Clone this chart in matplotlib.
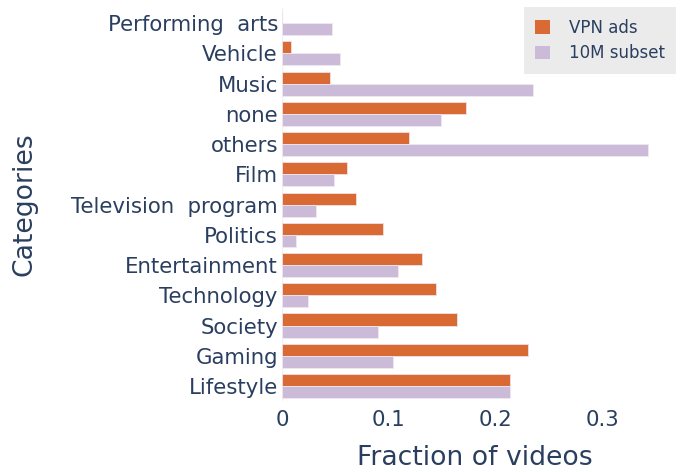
import numpy as np
from matplotlib import pyplot as plt
from matplotlib.patches import Patch

# categories top -> bottom as shown
categories = ['Performing  arts', 'Vehicle', 'Music', 'none', 'others', 'Film',
              'Television  program', 'Politics', 'Entertainment', 'Technology',
              'Society', 'Gaming', 'Lifestyle']
vpn_ads = [0.0, 0.008, 0.045, 0.172, 0.119, 0.061,
           0.069, 0.094, 0.131, 0.144, 0.164, 0.230, 0.213]
subset_10m = [0.047, 0.054, 0.235, 0.149, 0.342, 0.049,
              0.032, 0.013, 0.108, 0.024, 0.090, 0.104, 0.213]

TXT = '#2a3f5f'
ORANGE = '#d96a34'
PURPLE = '#ccbbd8'

plt.rcParams['font.family'] = ['DejaVu Sans']

fig = plt.figure(figsize=(6.83, 4.72), dpi=100)
ax = fig.add_axes([0.413, 0.150, 0.565, 0.833])

n = len(categories)
y = np.arange(n)[::-1]
h = 0.4
ax.barh(y + h / 2, vpn_ads, height=h, color=ORANGE, edgecolor='#f0e0e8', linewidth=0.6)
ax.barh(y - h / 2, subset_10m, height=h, color=PURPLE, edgecolor='#f0e8f0', linewidth=0.6)

ax.set_xlim(0, 0.361)
ax.set_ylim(-0.5, n - 0.5)
ax.set_yticks(y)
ax.set_yticklabels(categories)
ax.set_xticks([0, 0.1, 0.2, 0.3])
ax.set_xticklabels(['0', '0.1', '0.2', '0.3'])
ax.tick_params(axis='both', length=0, labelsize=15.3, colors=TXT, pad=3)
ax.tick_params(axis='x', pad=6)
for s in ax.spines.values():
    s.set_visible(False)
ax.axvline(0, color='#f2f2f2', lw=1, zorder=0)

ax.set_xlabel('Fraction of videos', fontsize=19.2, color=TXT, labelpad=11)
ax.set_ylabel('Categories', fontsize=19.2, color=TXT, labelpad=24)

handles = [Patch(facecolor=ORANGE, edgecolor='none'), Patch(facecolor=PURPLE, edgecolor='none')]
leg = ax.legend(handles, ['VPN ads', '10M subset'], loc='upper right',
                bbox_to_anchor=(1.035, 1.015), fontsize=12, frameon=True,
                fancybox=False, handlelength=0.9, handleheight=0.9,
                handletextpad=1.1, borderpad=0.7, labelspacing=0.45,
                borderaxespad=0.3)
leg.get_frame().set_facecolor('#ebebeb')
leg.get_frame().set_edgecolor('none')
leg.get_frame().set_alpha(1)
for t in leg.get_texts():
    t.set_color(TXT)

fig.savefig('out.png', dpi=100)
